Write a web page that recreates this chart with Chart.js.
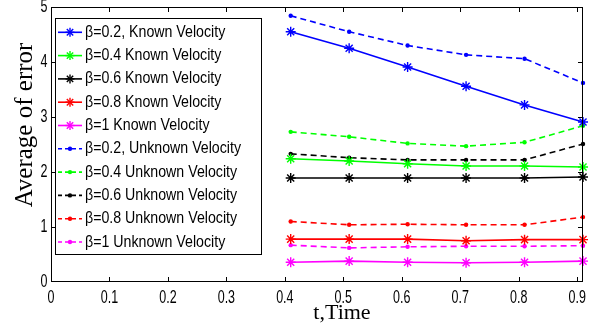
<!DOCTYPE html>
<html>
<head>
<meta charset="utf-8">
<script src="https://cdn.jsdelivr.net/npm/chart.js"></script>
<style>
  body { margin: 0; background: #fff; }
  #wrap { width: 600px; height: 329px; }
</style>
</head>
<body>
<div id="wrap"><canvas id="errChart" width="600" height="329"></canvas></div>
<script>
// temps (axe x) et graduations
const times = [0.41, 0.51, 0.61, 0.71, 0.81, 0.91];
const xTicks = [0, 0.1, 0.2, 0.3, 0.4, 0.5, 0.6, 0.7, 0.8, 0.9];
const yTicks = [0, 1, 2, 3, 4, 5];

// vitesse connue
const known02 = [4.55, 4.25, 3.91, 3.56, 3.22, 2.91];
const known04 = [2.24, 2.20, 2.15, 2.11, 2.11, 2.09];
const known06 = [1.89, 1.89, 1.89, 1.89, 1.89, 1.91];
const known08 = [0.78, 0.78, 0.78, 0.75, 0.77, 0.77];
const known1  = [0.36, 0.38, 0.36, 0.35, 0.36, 0.38];

// vitesse inconnue
const unknown02 = [4.84, 4.55, 4.30, 4.13, 4.06, 3.62];
const unknown04 = [2.73, 2.64, 2.52, 2.47, 2.54, 2.84];
const unknown06 = [2.33, 2.26, 2.22, 2.22, 2.22, 2.51];
const unknown08 = [1.10, 1.04, 1.05, 1.04, 1.04, 1.18];
const unknown1  = [0.67, 0.62, 0.64, 0.65, 0.65, 0.66];

const toPts = arr => times.map((t, i) => ({ x: t, y: arr[i] }));

function knownSet(label, arr, color) {
  return {
    label, data: toPts(arr), borderColor: color, backgroundColor: color,
    borderWidth: 1.6, pointStyle: 'star', pointRadius: 5, pointBorderWidth: 1.4,
    pointHoverRadius: 5, clip: false, tension: 0
  };
}
function unknownSet(label, arr, color) {
  return {
    label, data: toPts(arr), borderColor: color, backgroundColor: color,
    borderWidth: 1.6, borderDash: [6, 4], pointStyle: 'circle', pointRadius: 2.2,
    pointBorderWidth: 0, pointHoverRadius: 2.2, clip: false, tension: 0
  };
}

const datasets = [
  knownSet('β=0.2, Known Velocity', known02, '#0000ff'),
  knownSet('β=0.4 Known Velocity', known04, '#00ff00'),
  knownSet('β=0.6 Known Velocity', known06, '#000000'),
  knownSet('β=0.8 Known Velocity', known08, '#ff0000'),
  knownSet('β=1 Known Velocity', known1, '#ff00ff'),
  unknownSet('β=0.2, Unknown Velocity', unknown02, '#0000ff'),
  unknownSet('β=0.4 Unknown Velocity', unknown04, '#00ff00'),
  unknownSet('β=0.6 Unknown Velocity', unknown06, '#000000'),
  unknownSet('β=0.8 Unknown Velocity', unknown08, '#ff0000'),
  unknownSet('β=1 Unknown Velocity', unknown1, '#ff00ff')
];

function txt(ctx, s, x, y, font, align, sy) {
  ctx.save();
  ctx.translate(x, y);
  ctx.scale(1, sy || 1);
  ctx.font = font;
  ctx.textAlign = align;
  ctx.textBaseline = 'middle';
  ctx.fillStyle = '#000';
  ctx.fillText(s, 0, 0);
  ctx.restore();
}

function star(ctx, x, y, r) {
  for (let a = 0; a < 4; a++) {
    const ang = a * Math.PI / 4;
    ctx.beginPath();
    ctx.moveTo(x - r * Math.cos(ang), y - r * Math.sin(ang));
    ctx.lineTo(x + r * Math.cos(ang), y + r * Math.sin(ang));
    ctx.stroke();
  }
}

// cadre, graduations, étiquettes, légende façon Matlab
const matlabAxes = {
  id: 'matlabAxes',
  afterDraw(chart) {
    const { ctx, chartArea: a, scales } = chart;
    const xs = scales.x, ys = scales.y;
    ctx.save();
    ctx.strokeStyle = '#000';
    ctx.lineWidth = 1;
    ctx.setLineDash([]);
    ctx.strokeRect(a.left + 0.5, a.top + 0.5, a.right - a.left - 1, a.bottom - a.top - 1);

    xTicks.forEach(v => {
      const px = Math.round(xs.getPixelForValue(v)) + 0.5;
      if (v > 0) {
        ctx.beginPath();
        ctx.moveTo(px, a.bottom); ctx.lineTo(px, a.bottom - 5);
        ctx.moveTo(px, a.top); ctx.lineTo(px, a.top + 5);
        ctx.stroke();
      }
      txt(ctx, String(v), xs.getPixelForValue(v), 298, '12.5px "Liberation Sans", Arial', 'center', 1.45);
    });
    yTicks.forEach(v => {
      const py = Math.round(ys.getPixelForValue(v)) + 0.5;
      if (v > 0 && v < 5) {
        ctx.beginPath();
        ctx.moveTo(a.left, py); ctx.lineTo(a.left + 5, py);
        ctx.moveTo(a.right, py); ctx.lineTo(a.right - 5, py);
        ctx.stroke();
      }
      txt(ctx, String(v), 47.5, ys.getPixelForValue(v), '12.5px "Liberation Sans", Arial', 'right', 1.45);
    });

    // titres des axes
    txt(ctx, 't,Time', 342, 313, '22px "Liberation Serif", "Times New Roman"', 'center', 1);
    ctx.save();
    ctx.translate(25, 125);
    ctx.rotate(-Math.PI / 2);
    txt(ctx, 'Average of error', 0, 0, '25px "Liberation Serif", "Times New Roman"', 'center', 1);
    ctx.restore();

    // légende
    ctx.fillStyle = '#fff';
    ctx.fillRect(55, 18, 207, 237);
    ctx.strokeStyle = '#000';
    ctx.strokeRect(55.5, 18.5, 206, 236);
    chart.data.datasets.forEach((ds, i) => {
      const y = 32.3 + i * 23.3;
      ctx.strokeStyle = ds.borderColor;
      ctx.fillStyle = ds.borderColor;
      ctx.lineWidth = 1.6;
      ctx.setLineDash(ds.borderDash ? [4, 3] : []);
      ctx.beginPath();
      ctx.moveTo(58, y); ctx.lineTo(82, y);
      ctx.stroke();
      ctx.setLineDash([]);
      if (ds.pointStyle === 'star') {
        ctx.lineWidth = 1.4;
        star(ctx, 70, y, 4.5);
      } else {
        ctx.beginPath();
        ctx.arc(70, y, 2.2, 0, Math.PI * 2);
        ctx.fill();
      }
      txt(ctx, ds.label, 85, y, '14.2px "Liberation Sans", Arial', 'left', 1.15);
    });
    ctx.restore();
  }
};

new Chart(document.getElementById('errChart'), {
  type: 'line',
  data: { datasets },
  options: {
    responsive: false,
    animation: false,
    layout: { padding: { left: 51, right: 17, top: 7, bottom: 47 } },
    plugins: { legend: { display: false }, tooltip: { enabled: false } },
    scales: {
      x: { type: 'linear', min: 0, max: 0.91, display: false },
      y: { type: 'linear', min: 0, max: 5, display: false }
    }
  },
  plugins: [matlabAxes]
});
</script>
</body>
</html>
